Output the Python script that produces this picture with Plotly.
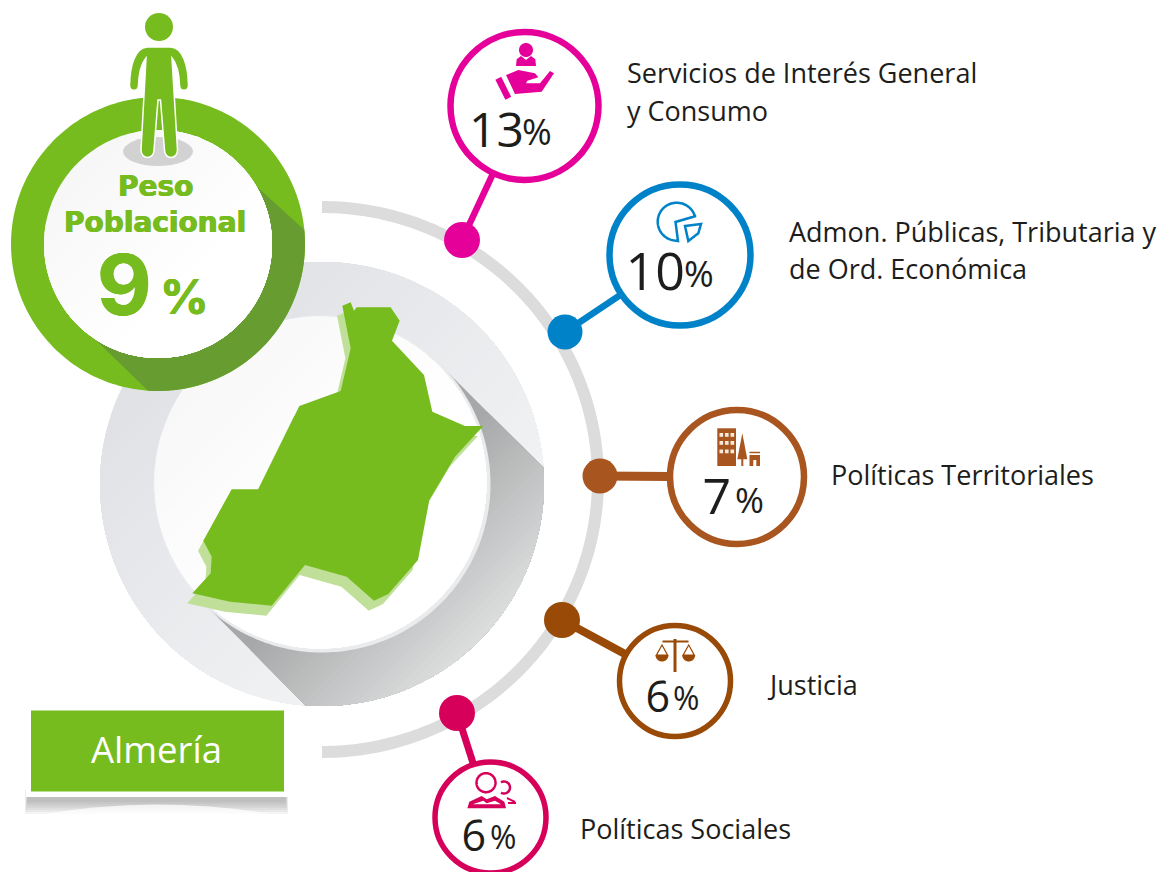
import numpy as np
import plotly.graph_objects as go

# ---------- data ----------
sector_lines = [
    ["Servicios de Interés General", "y Consumo"],
    ["Admon. Públicas, Tributaria y", "de Ord. Económica"],
    ["Políticas Territoriales"],
    ["Justicia"],
    ["Políticas Sociales"],
]
sector_pct = [13, 10, 7, 6, 6]
region_name = "Almería"
weight_title = ["Peso", "Poblacional"]
weight_pct = 9

# ---------- layout / style (pixels) ----------
colors = ["#e6009a", "#0082c9", "#a8551f", "#994a07", "#d6005a"]
ring_xy = [(524.5, 106), (680, 255), (737, 477), (675, 681), (490.5, 817.5)]
ring_r = [74, 70.5, 67, 55.5, 55.5]
ring_w = [6.5, 6.5, 6.5, 5.5, 5.5]
conn_w = [6.5, 6.5, 9, 8, 7]
dot_xy = [(462, 240), (565, 332), (600, 476), (562, 620), (457, 713)]
dot_r = [18, 17.5, 17.5, 18, 18]
num_end = [524, 685, 731, 670, 486]
num_y = [135, 277, 501, 701, 840]
num_size = [48, 52, 50, 43, 43]
pc_start = [522, 684, 735, 673, 490]
pc_y = [136, 278, 504, 702, 841]
pc_size = [36, 36, 35, 32, 32]
label_x = [625, 787, 829, 765, 578]
label_y = [[72, 110], [231, 268], [474], [684], [828]]

GREEN = "#76bc1f"
DGREEN = "#669c30"
DARK = "#1d1d1b"
FONT = "Open Sans"
THICK = "0.6px 0 0 #76bc1f, -0.6px 0 0 #76bc1f"
shapes = []


def circle_pts(cx, cy, rx, ry=None, a0=0, a1=360, n=240):
    ry = rx if ry is None else ry
    t = np.radians(np.linspace(a0, a1, n))
    return np.c_[cx + rx * np.cos(t), cy + ry * np.sin(t)]


def path_of(pts, close=True):
    s = "M" + "L".join(f"{x:.2f},{y:.2f}" for x, y in pts)
    return s + ("Z" if close else "")


def add_poly(pts, fill, line=None, lw=0, close=True):
    shapes.append(dict(type="path", path=path_of(pts, close), xref="x", yref="y", layer="below",
                       fillcolor=fill if fill else "rgba(0,0,0,0)",
                       line=dict(color=line or "rgba(0,0,0,0)", width=lw)))


def add_line(p, q, color, w):
    add_poly([p, q], None, color, w, close=False)


def clip(poly, nx, ny, c):
    """keep part where nx*x+ny*y >= c"""
    out = []
    n = len(poly)
    for i in range(n):
        a, b = poly[i], poly[(i + 1) % n]
        da, db = nx * a[0] + ny * a[1] - c, nx * b[0] + ny * b[1] - c
        if da >= 0:
            out.append(tuple(a))
        if da * db < 0:
            t = da / (da - db)
            out.append((a[0] + t * (b[0] - a[0]), a[1] + t * (b[1] - a[1])))
    return out


def hexmix(c0, c1, t):
    a = [int(c0[i:i + 2], 16) for i in (1, 3, 5)]
    b = [int(c1[i:i + 2], 16) for i in (1, 3, 5)]
    return "rgb(%d,%d,%d)" % tuple(round(u + (v - u) * t) for u, v in zip(a, b))


S2 = np.sqrt(0.5)


def gradient(poly, cx, cy, d0, d1, c0, c1, steps=28):
    """paint poly with a gradient along the lower-right diagonal"""
    add_poly(poly, hexmix(c0, c1, 0))
    base = S2 * (cx + cy)
    for i in range(1, steps + 1):
        d = d0 + (d1 - d0) * i / steps
        part = clip(list(map(tuple, poly)), S2, S2, base + d)
        if len(part) > 2:
            add_poly(part, hexmix(c0, c1, i / steps))


# big grey disk
BX, BY, BR = 322, 484, 222
disk = circle_pts(BX, BY, BR)
gradient(disk, BX, BY, -BR, BR, "#dfe1e5", "#f5f6f7", 30)

# long shadow of the inner disk
band = list(map(tuple, disk))
band = clip(band, S2, -S2, S2 * (BX - BY) - 168)
band = clip(band, -S2, S2, -S2 * (BX - BY) - 168)
band = clip(band, S2, S2, S2 * (BX + BY))
gradient(np.array(band), BX, BY, 60, 222, "#a6a8a9", "#dddede", 26)

# inner disk
add_poly(circle_pts(BX, BY, 168.5), "#e9ebed")
gradient(circle_pts(BX - 1.5, BY - 1.5, 166), BX, BY, -168, 30, "#f8f8f9", "#ffffff", 10)

# map
map_zoom = [(487, 47), (512, 37), (522, 62), (530, 52), (632, 52), (659, 92), (636, 152), (732, 255),
            (757, 365), (855, 408), (910, 408), (825, 500), (748, 630), (714, 810), (625, 912), (582, 932),
            (500, 860), (375, 825), (275, 947), (150, 935), (37, 910), (92, 850), (95, 800), (70, 752),
            (155, 598), (235, 598), (358, 348), (482, 303), (512, 175)]
map_pts = [(180 + x / 3, 290 + y / 3) for x, y in map_zoom]
add_poly([(x - 5.3, y + 10) for x, y in map_pts], "#c0e09a")
add_poly(map_pts, GREEN)

# outer grey arc
arc = circle_pts(322, 479.5, 276, 272.5, -90, 90, 200)
add_poly(arc, None, "#dcdcdc", 12, close=False)

# green ring
GX, GY, GR, Gr = 158, 244, 147, 114
add_poly(circle_pts(GX, GY, GR), GREEN)
# dark band of the ring, between two diagonal lines
outer_a = np.degrees(np.arctan2(230 - GY, 305 - GX))
outer_b = np.degrees(np.arctan2(391 - GY, 148 - GX))
inner_a = np.degrees(np.arctan2(185 - GY, 258 - GX))
inner_b = np.degrees(np.arctan2(338 - GY, 95 - GX))
dark = np.vstack([circle_pts(GX, GY, GR, None, outer_a, outer_b, 120),
                  circle_pts(GX, GY, Gr, None, inner_b, inner_a, 120)])
add_poly(dark, DGREEN)
gradient(circle_pts(GX, GY, Gr), GX, GY, -Gr, 40, "#f7f7f8", "#ffffff", 8)

# person
shapes.append(dict(type="circle", x0=123, x1=193, y0=137, y1=166, xref="x", yref="y", layer="below",
                   fillcolor="#d2d2d2", line=dict(width=0)))
shapes.append(dict(type="circle", x0=145, x1=173, y0=13, y1=41, xref="x", yref="y", layer="below",
                   fillcolor=GREEN, line=dict(width=0)))
body = "M147,47 L171,47 C183,48 188,65 188.5,85 C188.5,92 179.5,92 179.5,85 C179,72 177,64 172,58 " \
       "L177.5,150 C177.5,160 164.5,160 164.5,150 L160.5,100 L158,100 L154,150 C154,160 141,160 141,150 " \
       "L146,58 C141,64 139,72 138.5,85 C138.5,92 129.5,92 129.5,85 C130,65 135,48 147,47 Z"
shapes.append(dict(type="path", path=body, xref="x", yref="y", layer="below", fillcolor=GREEN,
                   line=dict(color="#ffffff", width=1.5)))

# connectors, rings
for (dx, dy), (rx, ry), r, w, c, cw in zip(dot_xy, ring_xy, ring_r, ring_w, colors, conn_w):
    add_line((dx, dy), (dx + (rx - dx) * (1 - r / np.hypot(rx - dx, ry - dy)),
                        dy + (ry - dy) * (1 - r / np.hypot(rx - dx, ry - dy))), c, cw)
    shapes.append(dict(type="circle", x0=rx - r, x1=rx + r, y0=ry - r, y1=ry + r, xref="x", yref="y",
                       layer="below", fillcolor="#ffffff", line=dict(color=c, width=w)))


def Z(pts, ox, oy):
    return [(ox + x / 3, oy + y / 3) for x, y in pts]


# icon: hand and person
c = colors[0]
add_poly(circle_pts(526, 50, 7), c)
add_poly(Z([(228, 138), (230, 118), (243, 108), (258, 120), (273, 108), (286, 118), (288, 138)], 440, 20), c)
add_poly(Z([(198, 165), (235, 150), (285, 160), (295, 172), (262, 182), (258, 190), (300, 190), (330, 153),
            (342, 160), (305, 215), (225, 222)], 440, 20), c)
add_line((498.3, 78.3), (508.3, 98.3), c, 6.5)

# icon: pie
c = colors[1]
add_poly(np.vstack([[(678, 241)], circle_pts(676.7, 221.7, 19, None, 92, 342, 60), [(696, 216), (675.5, 222)]]),
         None, c, 2.5)
add_poly(Z([(735, 618), (783, 612), (775, 640), (745, 663)], 440, 20), None, c, 2.5)

# icon: buildings
c = colors[2]
add_poly([(717.3, 428.3), (736, 428.3), (736, 466), (717.3, 466)], c)
for wx in (719.5, 725, 730.5):
    for wy in (433, 441, 449.5):
        add_poly([(wx, wy), (wx + 3.6, wy), (wx + 3.6, wy + 3.8), (wx, wy + 3.8)], "#f7e9dc")
add_poly([(742.3, 433.3), (737.3, 459.3), (747.3, 459.3)], c)
add_line((742.3, 459), (742.3, 466), c, 2)
add_line((749.5, 452.5), (760, 452.5), c, 1.5)
add_poly([(749.5, 455), (760, 455), (760, 466), (756.3, 466), (756.3, 460), (753.3, 460), (753.3, 466), (749.5, 466)], c)

# icon: scales
c = colors[3]
add_line((675, 639), (675, 672), c, 3)
add_line((662.5, 641.5), (688.5, 641.5), c, 2)
for px in (662, 688.7):
    add_poly(circle_pts(px, 655, 6.5, None, 0, 180, 30), c)
    add_poly([(px, 645), (px - 5.5, 655), (px + 5.5, 655)], None, c, 1.2)

# icon: people
c = colors[4]
add_poly(circle_pts(486, 782.7, 9.5), None, c, 2.5)
add_poly(circle_pts(504, 787.5, 6, None, -120, 120, 30), None, c, 2.5, close=False)
add_poly(Z([(142, 1195), (148, 1175), (185, 1158), (200, 1168), (225, 1158), (253, 1175), (258, 1195)], 420, 410), c)
add_poly(Z([(158, 1183), (190, 1172), (200, 1180), (225, 1172), (243, 1183)], 420, 410), "#ffffff")
add_line((507, 798), (515, 802), c, 2)
add_line((508, 803), (516, 803), c, 2)

# Almería box: soft curled shadow, white frame, green panel
for i, bottom in enumerate([814, 812, 810, 808, 806, 804, 802]):
    shapes.append(dict(type="rect", x0=25 + i * 0.4, x1=288 - i * 0.4, y0=790, y1=bottom,
                       xref="x", yref="y", layer="below", fillcolor="rgba(110,110,110,0.075)", line=dict(width=0)))
shapes.append(dict(type="path", path="M38,815 Q157,794 276,815 Z", xref="x", yref="y", layer="below",
                   fillcolor="rgba(255,255,255,0.75)", line=dict(width=0)))
shapes.append(dict(type="rect", x0=26, x1=288, y0=706, y1=797, xref="x", yref="y", layer="below",
                   fillcolor="#ffffff", line=dict(width=0)))
shapes.append(dict(type="rect", x0=31, x1=284, y0=710.5, y1=791.5, xref="x", yref="y", layer="below",
                   fillcolor=GREEN, line=dict(width=0)))

# ---------- traces ----------
fig = go.Figure()
fig.add_trace(go.Scatter(x=[p[0] for p in dot_xy], y=[p[1] for p in dot_xy], mode="markers",
                         marker=dict(size=[2 * r for r in dot_r], color=colors, opacity=1, line=dict(width=0)),
                         hoverinfo="skip", showlegend=False))
fig.add_trace(go.Scatter(x=num_end, y=num_y, mode="text", text=[str(v) for v in sector_pct],
                         textposition="middle left",
                         textfont=dict(family=FONT, size=num_size, color=DARK),
                         hoverinfo="skip", showlegend=False))
fig.add_trace(go.Scatter(x=pc_start, y=pc_y, mode="text", text=["%"] * len(sector_pct),
                         textposition="middle right",
                         textfont=dict(family=FONT, size=pc_size, color=DARK),
                         hoverinfo="skip", showlegend=False))

ann = []
for lines, x, ys in zip(sector_lines, label_x, label_y):
    for t, y in zip(lines, ys):
        ann.append(dict(x=x, y=y, text=t, xanchor="left", yanchor="middle", showarrow=False,
                        font=dict(family=FONT, size=27, color=DARK)))
ann.append(dict(x=156.5, y=749, text=region_name, showarrow=False, font=dict(family=FONT, size=36.5, color="#ffffff")))
ann.append(dict(x=155, y=186, text=f"<b>{weight_title[0]}</b>", showarrow=False,
                font=dict(family="DejaVu Sans", size=28, color=GREEN, shadow=THICK)))
ann.append(dict(x=155, y=222, text=f"<b>{weight_title[1]}</b>", showarrow=False,
                font=dict(family="DejaVu Sans", size=28, color=GREEN, shadow=THICK)))
ann.append(dict(x=124.5, y=284, text=f"<b>{weight_pct}</b>", showarrow=False,
                font=dict(family="Inter", size=84, color=GREEN, shadow=THICK)))
ann.append(dict(x=184, y=296, text="<b>%</b>", showarrow=False,
                font=dict(family="Inter", size=48, color=GREEN, shadow=THICK)))

fig.update_layout(width=1172, height=872, autosize=False, margin=dict(l=0, r=0, t=0, b=0),
                  paper_bgcolor="#ffffff", plot_bgcolor="#ffffff", shapes=shapes, annotations=ann,
                  xaxis=dict(range=[0, 1172], visible=False, fixedrange=True),
                  yaxis=dict(range=[872, 0], visible=False, fixedrange=True),
                  showlegend=False)
fig.write_html("out.html", config=dict(displayModeBar=False),
               post_script="document.body.style.margin='0';document.documentElement.style.overflow='hidden';")
